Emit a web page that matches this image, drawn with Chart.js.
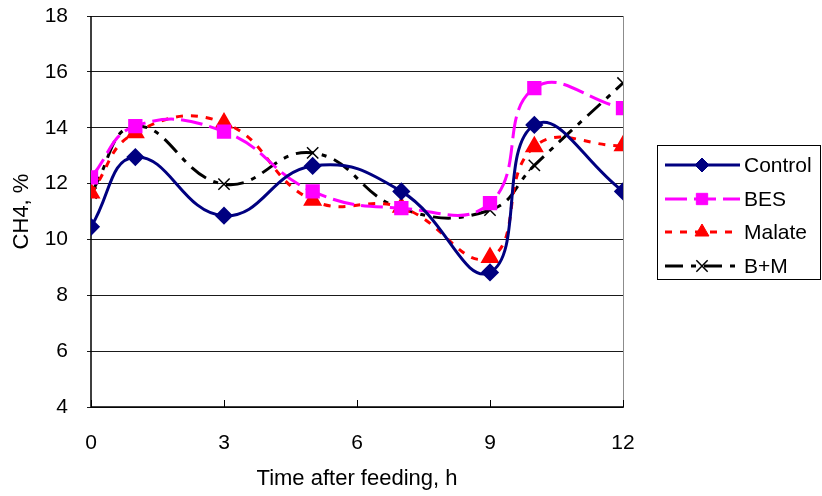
<!DOCTYPE html>
<html>
<head>
<meta charset="utf-8">
<script src="https://cdn.jsdelivr.net/npm/chart.js@4/dist/chart.umd.min.js"></script>
<style>
  html, body { margin: 0; padding: 0; background: #fff; }
  #wrap { width: 822px; height: 496px; position: relative; }
</style>
</head>
<body>
<div id="wrap"><canvas id="chart"></canvas></div>
<script>
// hours after feeding
const hours = [0, 1, 3, 5, 7, 9, 10, 12];
const control = [10.45, 12.95, 10.85, 12.63, 11.72, 8.82, 14.1, 11.72];
const bes = [12.22, 14.06, 13.86, 11.72, 11.12, 11.3, 15.42, 14.7];
const malate = [11.66, 13.82, 14.17, 11.4, 11.15, 9.35, 13.32, 13.35];
const bm = [11.66, 14.06, 11.98, 13.1, 11.1, 11.05, 12.65, 15.6];
const xTicks = [0, 3, 6, 9, 12];

const FONT = "'Liberation Sans', Arial, sans-serif";

function pts(vals) {
  return hours.map((h, i) => ({ x: h, y: vals[i] }));
}

// custom plot frame, inner tick marks and the boxed legend
const framePlugin = {
  id: "frame",
  beforeDatasetsDraw(chart) {
    const { ctx, chartArea: a, scales } = chart;
    ctx.save();
    ctx.lineWidth = 1;
    ctx.strokeStyle = "#8c8c8c";
    ctx.beginPath();
    ctx.moveTo(a.right + 0.5, a.top);
    ctx.lineTo(a.right + 0.5, a.bottom);
    ctx.stroke();
    ctx.strokeStyle = "#000";
    ctx.lineWidth = 1.5;
    ctx.beginPath();
    ctx.moveTo(a.left, a.top);
    ctx.lineTo(a.left, a.bottom);
    ctx.lineTo(a.right + 1, a.bottom);
    ctx.stroke();
    ctx.lineWidth = 1;
    xTicks.forEach(t => {
      const px = Math.round(scales.x.getPixelForValue(t)) + 0.5;
      ctx.beginPath();
      ctx.moveTo(px, a.bottom);
      ctx.lineTo(px, a.bottom - 7);
      ctx.stroke();
    });
    ctx.restore();
  },
  afterDraw(chart) {
    const { ctx } = chart;
    const box = { x: 657, y: 145, w: 164, h: 135 };
    ctx.save();
    ctx.fillStyle = "#fff";
    ctx.fillRect(box.x, box.y, box.w, box.h);
    ctx.strokeStyle = "#000";
    ctx.lineWidth = 1;
    ctx.strokeRect(box.x + 0.5, box.y + 0.5, box.w - 1, box.h - 1);
    const rows = [165, 199, 232, 266];
    chart.data.datasets.forEach((ds, i) => {
      const y = rows[i];
      ctx.strokeStyle = ds.borderColor;
      ctx.lineWidth = ds.borderWidth;
      ctx.setLineDash(ds.borderDash || []);
      ctx.beginPath();
      ctx.moveTo(665, y);
      ctx.lineTo(740, y);
      ctx.stroke();
      ctx.setLineDash([]);
      ctx.fillStyle = ds.borderColor;
      ctx.strokeStyle = ds.borderColor;
      ctx.lineWidth = ds.pointBorderWidth || 1;
      Chart.helpers.drawPoint(ctx, {
        pointStyle: ds.pointStyle,
        radius: ds.pointRadius,
        rotation: 0,
        borderWidth: ds.pointBorderWidth || 1
      }, 702, y);
      ctx.fillStyle = "#000";
      ctx.font = "21px " + FONT;
      ctx.textBaseline = "middle";
      ctx.fillText(ds.label, 744, y + 1);
    });
    ctx.restore();
  }
};

function pointStyleSetup(ds) {
  return Object.assign({
    fill: false,
    cubicInterpolationMode: "default",
    tension: 0.45,
    pointBackgroundColor: ds.borderColor,
    pointBorderColor: ds.borderColor,
    pointHoverRadius: ds.pointRadius
  }, ds);
}

const datasets = [
  pointStyleSetup({ label: "Control", data: pts(control), borderColor: "#000080", borderWidth: 3, pointStyle: "rectRot", pointRadius: 7 }),
  pointStyleSetup({ label: "BES", data: pts(bes), borderColor: "#ff00ff", borderWidth: 3, borderDash: [22, 7], pointStyle: "rect", pointRadius: 8 }),
  pointStyleSetup({ label: "Malate", data: pts(malate), borderColor: "#ff0000", borderWidth: 3, borderDash: [7, 8], pointStyle: "triangle", pointRadius: 8 }),
  pointStyleSetup({ label: "B+M", data: pts(bm), borderColor: "#000000", borderWidth: 3, borderDash: [18, 8, 5, 8], pointStyle: "crossRot", pointRadius: 8, pointBorderWidth: 1.5 })
];

new Chart(document.getElementById("chart"), {
  type: "line",
  data: { datasets },
  options: {
    responsive: true,
    maintainAspectRatio: false,
    animation: false,
    events: [],
    layout: { padding: { top: 16, right: 199, left: 0, bottom: 0 } },
    plugins: {
      legend: { display: false },
      tooltip: { enabled: false }
    },
    scales: {
      x: {
        type: "linear",
        min: 0,
        max: 12,
        afterBuildTicks(scale) {
          scale.ticks = xTicks.map(v => ({ value: v }));
        },
        afterFit(scale) {
          scale.height = 89;
          scale.paddingLeft = 0;
          scale.paddingRight = 0;
        },
        grid: { display: false },
        border: { display: false },
        ticks: { color: "#000", font: { family: FONT, size: 21 }, padding: 16, maxRotation: 0 },
        title: { display: true, text: "Time after feeding, h", color: "#000", font: { family: FONT, size: 22 }, padding: { top: 0, bottom: 4 } }
      },
      y: {
        min: 4,
        max: 18,
        ticks: { stepSize: 2, color: "#000", font: { family: FONT, size: 21 }, padding: 19 },
        afterFit(scale) {
          scale.width = 91;
          scale.paddingTop = 0;
          scale.paddingBottom = 0;
        },
        grid: { color: "#1a1a1a", lineWidth: 1, drawTicks: true, tickLength: 4 },
        border: { display: false },
        title: { display: true, text: "CH4, %", color: "#000", font: { family: FONT, size: 22 }, padding: { top: 9, bottom: 0 } }
      }
    }
  },
  plugins: [framePlugin]
});
</script>
</body>
</html>
